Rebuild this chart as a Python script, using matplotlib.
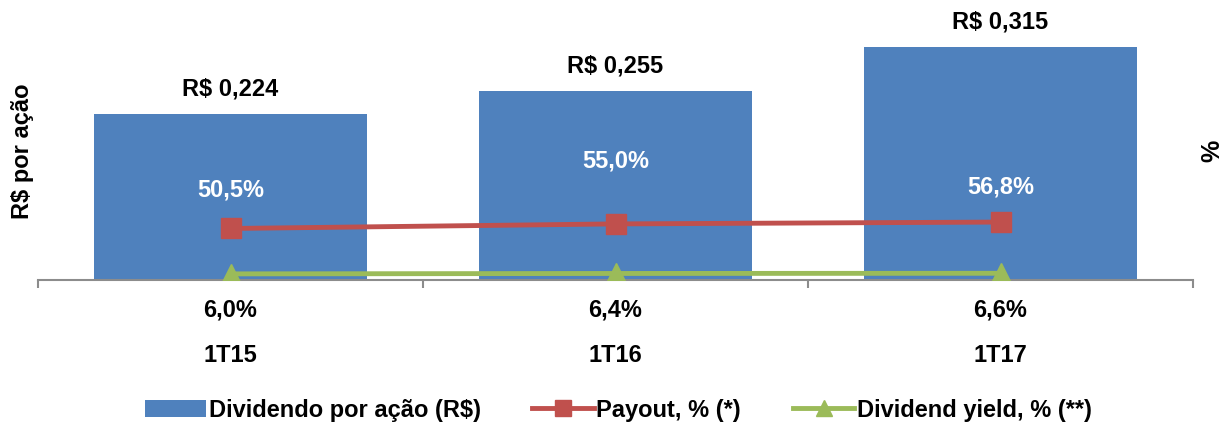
import matplotlib
matplotlib.use("Agg")
from matplotlib import pyplot as plt
from matplotlib.patches import Patch
from matplotlib.lines import Line2D

plt.rcParams['font.family'] = ['Liberation Sans', 'DejaVu Sans']
plt.rcParams['font.weight'] = 'bold'

# data
periods = ['1T15', '1T16', '1T17']
dividendo = [0.224, 0.255, 0.315]
payout = [50.5, 55.0, 56.8]
dy_yield = [6.0, 6.4, 6.6]

dividendo_labels = ['R$ 0,224', 'R$ 0,255', 'R$ 0,315']
payout_labels = ['50,5%', '55,0%', '56,8%']
yield_labels = ['6,0%', '6,4%', '6,6%']

BLUE = '#4F81BD'
RED = '#C0504D'
GREEN = '#9BBB59'
GRAY = '#8C8C8C'
FS = 17

W, H = 1224, 422
fig = plt.figure(figsize=(W / 100, H / 100), dpi=100)

# axes in pixel coords: x 38..1193, y(top) 10..280
left, right, top, bottom = 38, 1193, 10, 280
ax = fig.add_axes([left / W, 1 - bottom / H, (right - left) / W, (bottom - top) / H])
ax2 = ax.twinx()

px_h = bottom - top
ax.set_ylim(0, px_h / 740.0)
ax2.set_ylim(0, px_h / 1.02)
ax.set_xlim(-0.5, 2.5)

x = list(range(len(periods)))
ax.bar(x, dividendo, width=0.71, color=BLUE, zorder=2)

ax2.plot(x, payout, color=RED, lw=3.5, marker='s', ms=14, zorder=3)
ax2.plot(x, dy_yield, color=GREEN, lw=3.5, marker='^', ms=15, zorder=3)

# labels
for xi, v, lab in zip(x, dividendo, dividendo_labels):
    ax.annotate(lab, (xi, v), xytext=(0, 18), textcoords='offset points',
                ha='center', va='center', fontsize=FS, fontweight='bold', color='black')

payout_offsets = [28, 45, 25]
for xi, v, lab, off in zip(x, payout, payout_labels, payout_offsets):
    ax2.annotate(lab, (xi, v), xytext=(0, off), textcoords='offset points',
                 ha='center', va='center', fontsize=FS, fontweight='bold', color='white', zorder=4)

for xi, lab in zip(x, yield_labels):
    ax.text(xi, -30 / 740.0, lab, ha='center', va='center', fontsize=FS,
            fontweight='bold', color='black')

for xi, lab in zip(x, periods):
    ax.text(xi, -75 / 740.0, lab, ha='center', va='center', fontsize=FS,
            fontweight='bold', color='black')

# axes styling
for a in (ax, ax2):
    for s in ('top', 'left', 'right'):
        a.spines[s].set_visible(False)
    a.set_yticks([])
ax2.spines['bottom'].set_visible(False)
ax.spines['bottom'].set_color(GRAY)
ax.spines['bottom'].set_linewidth(1.5)
ax.set_xticks([-0.5, 0.5, 1.5, 2.5])
ax.set_xticklabels([])
ax.tick_params(axis='x', direction='out', length=6, width=1.5, color=GRAY)

fig.text(22 / W, 1 - 151 / H, 'R$ por ação', rotation=90, ha='center', va='center',
         fontsize=FS, fontweight='bold')
fig.text(1212 / W, 1 - 151 / H, '%', rotation=90, ha='center', va='center',
         fontsize=FS + 1, fontweight='bold')

handles = [
    Patch(facecolor=BLUE, edgecolor='none'),
    Line2D([0], [0], color=RED, lw=3.5, marker='s', ms=12),
    Line2D([0], [0], color=GREEN, lw=3.5, marker='^', ms=12),
]
fig.legend(handles, ['Dividendo por ação (R$)', 'Payout, % (*)', 'Dividend yield, % (**)'],
           loc='center', bbox_to_anchor=(0.505, 1 - 410 / H), ncol=3, frameon=False,
           handlelength=2.6, handletextpad=0.1, columnspacing=2.2,
           prop={'weight': 'bold', 'size': FS})

fig.savefig('out.png', dpi=100)
